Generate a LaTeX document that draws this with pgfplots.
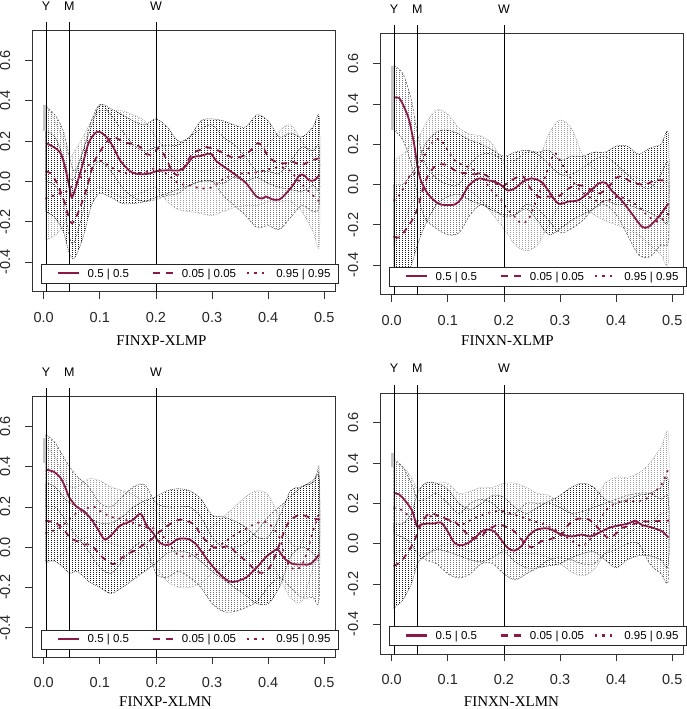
\documentclass[border=0pt]{standalone}
\usepackage{fontspec}
\setmainfont{Liberation Sans}
\newfontfamily\serif{Liberation Serif}
\usepackage{pgfplots}
\pgfplotsset{compat=1.18}
\usetikzlibrary{patterns}
\definecolor{crim}{RGB}{139,26,74}
\pgfdeclarepatternformonly{vdots}{\pgfqpoint{-0.1pt}{-0.1pt}}{\pgfqpoint{3.1pt}{2.1pt}}{\pgfqpoint{3pt}{2pt}}{\pgfpathrectangle{\pgfqpoint{0pt}{0pt}}{\pgfqpoint{0.9pt}{1pt}}\pgfusepath{fill}}

\pgfplotsset{
 panel/.style={
  scale only axis, width=303pt, height=261pt,
  xmin=-0.02, xmax=0.52, ymin=-0.548, ymax=0.748,
  clip=false,
  axis line style={black!80, line width=0.7pt},
  xtick={0,0.1,0.2,0.3,0.4,0.5}, xticklabels={0.0,0.1,0.2,0.3,0.4,0.5},
  ytick={-0.4,-0.2,0,0.2,0.4,0.6}, yticklabels={-0.4,-0.2,0.0,0.2,0.4,0.6},
  tick pos=left, tick align=outside, major tick length=7pt,
  tick style={black!80, line width=0.7pt},
  ticklabel style={font=\fontsize{14.5}{16}\selectfont, text=black!85},
  yticklabel style={rotate=90, anchor=south, inner sep=0pt},
  xticklabel style={anchor=north, inner sep=0pt},
  xticklabel shift=13pt, yticklabel shift=15pt,
  legend columns=3,
  legend style={at={(0,0)}, anchor=south west, xshift=8.7pt, yshift=8.4pt,
    draw=black!85, fill=white,
    font=\fontsize{11.5}{13}\selectfont, inner xsep=9pt, inner ysep=4.5pt,
    nodes={inner sep=0pt},
    /tikz/every even column/.append style={column sep=0pt},
    /tikz/every odd column/.append style={column sep=8pt}},
 },
 sline/.style={crim, line width=1.8pt, smooth, tension=0.5},
 dline/.style={crim, line width=1.8pt, line cap=round, dash pattern=on 5pt off 6.5pt, smooth, tension=0.5},
 tline/.style={crim, line width=1.8pt, line cap=round, dash pattern=on 1pt off 6pt, smooth, tension=0.5},
 gband/.style={pattern=vdots, pattern color=gray!75, draw=gray!75, line width=0.5pt, dash pattern=on 1pt off 1pt, smooth, tension=0.5, forget plot},
 sband/.style={pattern=vdots, pattern color=black!55, draw=black!70, line width=0.5pt, dash pattern=on 2pt off 1.5pt, smooth, tension=0.5, forget plot},
 bband/.style={pattern=vdots, pattern color=black!90, draw=black!85, line width=0.5pt, dash pattern=on 1pt off 1pt, smooth, tension=0.5, forget plot},
}

\newcommand{\ymw}{%
 \draw[black, line width=0.8pt] (axis cs:0.004,-0.548) -- (axis cs:0.004,0.79);
 \draw[black, line width=0.8pt] (axis cs:0.0455,-0.548) -- (axis cs:0.0455,0.79);
 \draw[black, line width=0.8pt] (axis cs:0.2,-0.548) -- (axis cs:0.2,0.79);
 \node[inner sep=0pt, font=\fontsize{12.5}{14}\selectfont] at (axis cs:0.004,0.87) {Y};
 \node[inner sep=0pt, font=\fontsize{12.5}{14}\selectfont] at (axis cs:0.0455,0.87) {M};
 \node[inner sep=0pt, font=\fontsize{12.5}{14}\selectfont] at (axis cs:0.2,0.87) {W};
}
\newcommand{\ssamp}{\textcolor{crim}{\rule[2.7pt]{20.7pt}{2.2pt}}}
\newcommand{\dsamp}{\textcolor{crim}{\rule[2.7pt]{7.5pt}{2.2pt}\hspace{5.7pt}\rule[2.7pt]{7.5pt}{2.2pt}}}
\newcommand{\tsamp}{\textcolor{crim}{\rule[2.7pt]{2.3pt}{2.2pt}\hspace{5.1pt}\rule[2.7pt]{2.3pt}{2.2pt}\hspace{5.1pt}\rule[2.7pt]{2.3pt}{2.2pt}}\hspace{3.6pt}}
\newcommand{\legs}{%
 \addlegendimage{empty legend}\addlegendentry{\ssamp\hspace{8.6pt}\makebox[57pt][l]{0.5 | 0.5}}
 \addlegendimage{empty legend}\addlegendentry{\dsamp\hspace{8.6pt}\makebox[57pt][l]{0.05 | 0.05}}
 \addlegendimage{empty legend}\addlegendentry{\tsamp\hspace{8.6pt}\makebox[53pt][l]{0.95 | 0.95}}
}

\begin{document}
\begin{tikzpicture}
\path (0pt,0pt) rectangle (685pt,709pt);

% ---------------- top left
\begin{axis}[panel, at={(32pt,417.3pt)}, anchor=south west]
\legs
\addplot[gband] coordinates {(0.004,0.38) (0.02,0.30) (0.035,0.20) (0.046,0.12) (0.055,0.15) (0.07,0.22) (0.085,0.30) (0.10,0.35) (0.12,0.35) (0.14,0.35) (0.16,0.33) (0.18,0.30) (0.20,0.22) (0.22,0.15) (0.24,0.10) (0.26,0.07) (0.28,0.05) (0.30,0.06) (0.32,0.08) (0.34,0.10) (0.36,0.12) (0.38,0.15) (0.40,0.18) (0.42,0.25) (0.44,0.28) (0.46,0.20) (0.48,0.12) (0.491,0.10)
 (0.491,-0.32) (0.48,-0.25) (0.46,-0.15) (0.44,-0.10) (0.42,-0.10) (0.40,-0.10) (0.38,-0.12) (0.36,-0.12) (0.34,-0.13) (0.32,-0.15) (0.30,-0.17) (0.28,-0.16) (0.26,-0.15) (0.24,-0.14) (0.22,-0.10) (0.20,-0.03) (0.18,-0.05) (0.16,-0.07) (0.14,-0.08) (0.12,-0.05) (0.10,-0.03) (0.085,-0.05) (0.07,-0.08) (0.055,-0.12) (0.046,-0.15) (0.035,-0.22) (0.02,-0.27) (0.004,-0.29)} -- cycle;
\addplot[sband] coordinates {(0.004,0.37) (0.02,0.33) (0.035,0.25) (0.046,0.12) (0.055,0.05) (0.07,0.15) (0.085,0.30) (0.10,0.38) (0.12,0.33) (0.14,0.25) (0.16,0.18) (0.18,0.15) (0.20,0.17) (0.22,0.18) (0.24,0.18) (0.26,0.22) (0.28,0.26) (0.30,0.28) (0.32,0.22) (0.34,0.18) (0.36,0.12) (0.38,0.05) (0.40,0.05) (0.42,0.04) (0.44,0.10) (0.46,0.17) (0.48,0.15) (0.491,0.17)
 (0.491,-0.12) (0.48,-0.15) (0.46,-0.12) (0.44,-0.18) (0.42,-0.24) (0.40,-0.22) (0.38,-0.23) (0.36,-0.17) (0.34,-0.12) (0.32,-0.07) (0.30,0.00) (0.28,0.00) (0.26,-0.02) (0.24,-0.06) (0.22,-0.07) (0.20,-0.09) (0.18,-0.10) (0.16,-0.08) (0.14,-0.03) (0.12,0.05) (0.10,0.10) (0.085,0.05) (0.07,-0.15) (0.055,-0.30) (0.046,-0.28) (0.035,-0.10) (0.02,-0.02) (0.004,0.00)} -- cycle;
\addplot[bband] coordinates {(0.004,0.25) (0.02,0.22) (0.035,0.12) (0.046,0.02) (0.055,0.02) (0.07,0.15) (0.085,0.27) (0.10,0.38) (0.12,0.36) (0.14,0.33) (0.16,0.30) (0.18,0.28) (0.20,0.31) (0.22,0.27) (0.24,0.20) (0.26,0.22) (0.28,0.30) (0.30,0.31) (0.32,0.30) (0.34,0.28) (0.36,0.27) (0.38,0.33) (0.40,0.30) (0.42,0.22) (0.44,0.24) (0.46,0.22) (0.48,0.27) (0.491,0.32)
 (0.491,-0.03) (0.48,-0.02) (0.46,-0.05) (0.44,-0.04) (0.42,-0.03) (0.40,-0.01) (0.38,0.02) (0.36,0.00) (0.34,0.02) (0.32,-0.01) (0.30,0.00) (0.28,0.00) (0.26,-0.02) (0.24,-0.04) (0.22,-0.06) (0.20,-0.08) (0.18,-0.10) (0.16,-0.11) (0.14,-0.11) (0.12,-0.08) (0.10,-0.06) (0.085,-0.12) (0.07,-0.28) (0.055,-0.38) (0.046,-0.36) (0.035,-0.25) (0.02,-0.18) (0.004,-0.15)} -- cycle;
\addplot[gray!45, line width=2.5pt, forget plot] coordinates {(0.0015,0.25) (0.0015,0.38)};
\addplot[sline, forget plot] coordinates {(0.004,0.19) (0.018,0.17) (0.030,0.14) (0.038,0.07) (0.046,-0.03) (0.050,-0.08) (0.056,-0.04) (0.068,0.07) (0.080,0.19) (0.092,0.24) (0.100,0.245) (0.112,0.22) (0.124,0.17) (0.136,0.105) (0.154,0.05) (0.172,0.035) (0.190,0.04) (0.200,0.05) (0.220,0.055) (0.243,0.055) (0.254,0.08) (0.266,0.12) (0.278,0.125) (0.290,0.135) (0.299,0.135) (0.308,0.10) (0.325,0.065) (0.343,0.03) (0.361,-0.01) (0.379,-0.075) (0.390,-0.085) (0.396,-0.075) (0.408,-0.09) (0.420,-0.09) (0.432,-0.06) (0.444,-0.02) (0.456,0.03) (0.464,0.03) (0.473,0.005) (0.482,0.005) (0.491,0.03)};
\addplot[dline, forget plot] coordinates {(0.004,0.05) (0.012,0.04) (0.024,-0.01) (0.038,-0.11) (0.047,-0.2) (0.054,-0.2) (0.065,-0.13) (0.077,-0.03) (0.089,0.09) (0.101,0.15) (0.112,0.195) (0.124,0.22) (0.136,0.205) (0.148,0.19) (0.160,0.185) (0.172,0.17) (0.183,0.135) (0.195,0.135) (0.204,0.165) (0.213,0.14) (0.222,0.09) (0.231,0.04) (0.243,0.035) (0.254,0.09) (0.266,0.14) (0.278,0.155) (0.290,0.17) (0.302,0.16) (0.314,0.15) (0.325,0.13) (0.337,0.12) (0.349,0.12) (0.361,0.135) (0.373,0.165) (0.382,0.19) (0.391,0.17) (0.400,0.12) (0.408,0.105) (0.420,0.09) (0.432,0.09) (0.441,0.10) (0.450,0.09) (0.459,0.08) (0.467,0.09) (0.479,0.105) (0.491,0.115)};
\addplot[tline, forget plot] coordinates {(0.004,-0.085) (0.018,-0.07) (0.030,-0.06) (0.041,-0.05) (0.050,-0.025) (0.062,0.005) (0.071,0.04) (0.083,0.09) (0.095,0.105) (0.104,0.10) (0.12,0.07) (0.14,0.045) (0.16,0.04) (0.18,0.045) (0.2,0.065) (0.22,0.035) (0.24,-0.01) (0.26,-0.02) (0.28,-0.035) (0.30,-0.03) (0.32,0.01) (0.34,0.035) (0.36,0.04) (0.38,0.045) (0.40,0.06) (0.42,0.07) (0.435,0.06) (0.45,0.02) (0.465,-0.03) (0.48,-0.07) (0.491,-0.1)};
\ymw
\end{axis}

% ---------------- top right
\begin{axis}[panel, at={(380pt,414.2pt)}, anchor=south west]
\legs
\addplot[gband] coordinates {(0.004,0.12) (0.02,0.15) (0.035,0.20) (0.046,0.22) (0.06,0.30) (0.08,0.37) (0.10,0.35) (0.12,0.28) (0.14,0.25) (0.16,0.24) (0.18,0.20) (0.20,0.10) (0.22,0.05) (0.24,0.00) (0.26,0.10) (0.28,0.25) (0.30,0.32) (0.32,0.28) (0.34,0.15) (0.36,0.08) (0.38,0.06) (0.40,0.08) (0.42,0.05) (0.44,0.03) (0.46,0.00) (0.48,-0.02) (0.493,0.00)
 (0.493,-0.39) (0.48,-0.35) (0.46,-0.30) (0.44,-0.25) (0.42,-0.22) (0.40,-0.20) (0.38,-0.18) (0.36,-0.15) (0.34,-0.10) (0.32,-0.05) (0.30,-0.10) (0.28,-0.20) (0.26,-0.30) (0.24,-0.33) (0.22,-0.30) (0.20,-0.22) (0.18,-0.15) (0.16,-0.08) (0.14,-0.03) (0.12,0.00) (0.10,0.03) (0.08,0.05) (0.06,0.00) (0.046,-0.05) (0.035,-0.10) (0.02,-0.20) (0.004,-0.30)} -- cycle;
\addplot[sband] coordinates {(0.004,0.59) (0.02,0.55) (0.035,0.42) (0.046,0.25) (0.06,0.10) (0.08,0.03) (0.10,0.00) (0.12,0.00) (0.14,0.10) (0.16,0.15) (0.18,0.15) (0.20,0.12) (0.22,0.12) (0.24,0.16) (0.26,0.15) (0.28,0.10) (0.30,0.05) (0.32,0.05) (0.34,0.08) (0.36,0.12) (0.38,0.14) (0.40,0.10) (0.42,0.05) (0.44,0.00) (0.46,-0.02) (0.48,0.05) (0.493,0.10)
 (0.493,-0.28) (0.48,-0.30) (0.46,-0.36) (0.44,-0.35) (0.42,-0.25) (0.40,-0.15) (0.38,-0.10) (0.36,-0.12) (0.34,-0.18) (0.32,-0.22) (0.30,-0.24) (0.28,-0.18) (0.26,-0.12) (0.24,-0.10) (0.22,-0.15) (0.20,-0.16) (0.18,-0.12) (0.16,-0.10) (0.14,-0.15) (0.12,-0.24) (0.10,-0.25) (0.08,-0.22) (0.06,-0.17) (0.046,-0.05) (0.035,0.10) (0.02,0.22) (0.004,0.27)} -- cycle;
\addplot[bband] coordinates {(0.004,0.00) (0.02,0.00) (0.035,0.05) (0.046,0.10) (0.06,0.20) (0.08,0.26) (0.10,0.27) (0.12,0.25) (0.14,0.22) (0.16,0.20) (0.18,0.17) (0.20,0.14) (0.22,0.16) (0.24,0.17) (0.26,0.16) (0.28,0.17) (0.30,0.12) (0.32,0.14) (0.34,0.14) (0.36,0.16) (0.38,0.16) (0.40,0.19) (0.42,0.19) (0.44,0.15) (0.46,0.18) (0.48,0.20) (0.493,0.25)
 (0.493,-0.17) (0.48,-0.17) (0.46,-0.14) (0.44,-0.12) (0.42,-0.10) (0.40,-0.10) (0.38,-0.08) (0.36,-0.12) (0.34,-0.15) (0.32,-0.18) (0.30,-0.22) (0.28,-0.25) (0.26,-0.18) (0.24,-0.12) (0.22,-0.15) (0.20,-0.15) (0.18,-0.13) (0.16,-0.10) (0.14,-0.08) (0.12,-0.05) (0.10,-0.06) (0.08,-0.10) (0.06,-0.20) (0.046,-0.30) (0.035,-0.40) (0.02,-0.48) (0.004,-0.50)} -- cycle;
\addplot[gray!45, line width=2.5pt, forget plot] coordinates {(0.0015,0.27) (0.0015,0.59)};
\addplot[sline, forget plot] coordinates {(0.004,0.43) (0.013,0.43) (0.022,0.385) (0.031,0.32) (0.040,0.2) (0.046,0.09) (0.052,0.02) (0.064,-0.045) (0.076,-0.08) (0.088,-0.10) (0.112,-0.10) (0.124,-0.07) (0.136,-0.01) (0.148,0.02) (0.157,0.03) (0.171,0.02) (0.183,0.015) (0.195,-0.003) (0.207,-0.03) (0.219,-0.02) (0.234,0.013) (0.249,0.03) (0.267,0.013) (0.279,-0.03) (0.297,-0.095) (0.315,-0.085) (0.333,-0.078) (0.351,-0.04) (0.369,0.005) (0.381,0.008) (0.392,-0.03) (0.410,-0.08) (0.428,-0.145) (0.446,-0.21) (0.458,-0.21) (0.476,-0.16) (0.493,-0.095)};
\addplot[dline, forget plot] coordinates {(0.004,-0.26) (0.013,-0.263) (0.025,-0.225) (0.037,-0.175) (0.046,-0.12) (0.055,-0.03) (0.064,0.04) (0.076,0.087) (0.088,0.10) (0.100,0.095) (0.112,0.07) (0.124,0.058) (0.136,0.055) (0.148,0.05) (0.160,0.055) (0.171,0.04) (0.183,0.013) (0.195,-0.012) (0.207,0.008) (0.219,0.03) (0.234,0.04) (0.243,-0.003) (0.261,-0.06) (0.279,-0.06) (0.297,-0.06) (0.315,-0.02) (0.333,-0.003) (0.351,-0.02) (0.369,-0.045) (0.387,-0.012) (0.398,0.03) (0.410,0.04) (0.422,0.02) (0.434,0.005) (0.452,0.0) (0.470,0.02) (0.488,0.02) (0.493,0.03)};
\addplot[tline, forget plot] coordinates {(0.004,-0.08) (0.013,-0.055) (0.022,-0.012) (0.031,0.04) (0.040,0.055) (0.047,0.08) (0.058,0.14) (0.070,0.2) (0.079,0.225) (0.088,0.22) (0.100,0.17) (0.112,0.12) (0.124,0.10) (0.136,0.087) (0.148,0.07) (0.160,0.045) (0.171,-0.003) (0.183,-0.045) (0.195,-0.078) (0.207,-0.127) (0.219,-0.16) (0.231,-0.193) (0.243,-0.177) (0.255,-0.10) (0.267,-0.012) (0.279,0.08) (0.290,0.155) (0.300,0.12) (0.312,0.06) (0.327,0.0) (0.345,-0.05) (0.369,-0.085) (0.387,-0.078) (0.404,-0.06) (0.422,-0.078) (0.440,-0.11) (0.458,-0.16) (0.476,-0.185) (0.493,-0.145)};
\ymw
\end{axis}

% ---------------- bottom left
\begin{axis}[panel, at={(32pt,51.5pt)}, anchor=south west]
\legs
\addplot[gband] coordinates {(0.004,0.50) (0.02,0.45) (0.035,0.35) (0.046,0.30) (0.06,0.30) (0.08,0.34) (0.10,0.33) (0.12,0.30) (0.14,0.28) (0.16,0.26) (0.18,0.22) (0.20,0.18) (0.22,0.10) (0.24,0.05) (0.26,0.04) (0.28,0.06) (0.30,0.10) (0.32,0.15) (0.34,0.20) (0.36,0.25) (0.38,0.28) (0.40,0.26) (0.42,0.15) (0.44,0.02) (0.46,0.02) (0.48,0.25) (0.491,0.40)
 (0.491,0.00) (0.48,-0.10) (0.46,-0.27) (0.44,-0.25) (0.42,-0.15) (0.40,-0.05) (0.38,-0.02) (0.36,-0.03) (0.34,-0.05) (0.32,-0.10) (0.30,-0.13) (0.28,-0.18) (0.26,-0.20) (0.24,-0.20) (0.22,-0.17) (0.20,-0.10) (0.18,-0.05) (0.16,-0.02) (0.14,0.00) (0.12,0.02) (0.10,0.03) (0.08,0.05) (0.06,0.03) (0.046,0.00) (0.035,-0.03) (0.02,-0.06) (0.004,-0.08)} -- cycle;
\addplot[sband] coordinates {(0.004,0.56) (0.02,0.52) (0.035,0.45) (0.046,0.40) (0.06,0.35) (0.08,0.30) (0.10,0.22) (0.12,0.20) (0.14,0.25) (0.16,0.30) (0.18,0.31) (0.20,0.22) (0.22,0.20) (0.24,0.20) (0.26,0.20) (0.28,0.15) (0.30,0.05) (0.32,0.00) (0.34,0.00) (0.36,0.02) (0.38,0.08) (0.40,0.15) (0.42,0.20) (0.44,0.25) (0.46,0.30) (0.48,0.32) (0.491,0.35)
 (0.491,-0.25) (0.48,-0.25) (0.46,-0.25) (0.44,-0.20) (0.42,-0.15) (0.40,-0.20) (0.38,-0.27) (0.36,-0.30) (0.34,-0.32) (0.32,-0.32) (0.30,-0.28) (0.28,-0.20) (0.26,-0.15) (0.24,-0.12) (0.22,-0.15) (0.20,-0.13) (0.18,0.02) (0.16,0.00) (0.14,-0.07) (0.12,-0.13) (0.10,-0.10) (0.08,-0.02) (0.06,0.05) (0.046,0.10) (0.035,0.15) (0.02,0.20) (0.004,0.20)} -- cycle;
\addplot[bband] coordinates {(0.004,0.32) (0.02,0.30) (0.035,0.25) (0.046,0.22) (0.06,0.20) (0.08,0.15) (0.10,0.12) (0.12,0.12) (0.14,0.15) (0.16,0.20) (0.18,0.23) (0.20,0.25) (0.22,0.28) (0.24,0.29) (0.26,0.28) (0.28,0.24) (0.30,0.16) (0.32,0.15) (0.34,0.13) (0.36,0.10) (0.38,0.05) (0.40,0.05) (0.42,0.15) (0.44,0.28) (0.46,0.30) (0.48,0.33) (0.491,0.34)
 (0.491,-0.05) (0.48,-0.03) (0.46,0.00) (0.44,-0.05) (0.42,-0.20) (0.40,-0.28) (0.38,-0.28) (0.36,-0.24) (0.34,-0.20) (0.32,-0.16) (0.30,-0.12) (0.28,-0.07) (0.26,-0.03) (0.24,-0.02) (0.22,-0.03) (0.20,-0.08) (0.18,-0.12) (0.16,-0.16) (0.14,-0.20) (0.12,-0.23) (0.10,-0.20) (0.08,-0.17) (0.06,-0.12) (0.046,-0.13) (0.035,-0.10) (0.02,-0.07) (0.004,-0.07)} -- cycle;
\addplot[gray!45, line width=2.5pt, forget plot] coordinates {(0.0015,0.42) (0.0015,0.54)};
\addplot[sline, forget plot] coordinates {(0.004,0.385) (0.018,0.374) (0.030,0.344) (0.038,0.30) (0.046,0.245) (0.059,0.20) (0.071,0.18) (0.083,0.145) (0.095,0.096) (0.106,0.045) (0.112,0.04) (0.124,0.07) (0.136,0.107) (0.148,0.12) (0.160,0.137) (0.169,0.162) (0.175,0.16) (0.183,0.11) (0.195,0.07) (0.204,0.03) (0.213,0.013) (0.225,0.013) (0.237,0.038) (0.249,0.043) (0.260,0.038) (0.272,0.013) (0.284,-0.033) (0.296,-0.078) (0.314,-0.135) (0.331,-0.17) (0.343,-0.17) (0.361,-0.15) (0.379,-0.103) (0.396,-0.05) (0.408,-0.023) (0.417,-0.012) (0.429,-0.056) (0.444,-0.083) (0.462,-0.086) (0.476,-0.083) (0.491,-0.036)};
\addplot[dline, forget plot] coordinates {(0.004,0.13) (0.015,0.126) (0.027,0.11) (0.038,0.08) (0.047,0.046) (0.059,0.03) (0.071,0.013) (0.083,0.013) (0.095,-0.02) (0.106,-0.053) (0.118,-0.078) (0.127,-0.083) (0.139,-0.053) (0.154,-0.028) (0.166,-0.012) (0.178,0.013) (0.192,0.038) (0.204,0.07) (0.216,0.096) (0.228,0.12) (0.243,0.137) (0.254,0.13) (0.269,0.112) (0.278,0.07) (0.290,0.03) (0.305,-0.003) (0.320,0.0) (0.331,0.005) (0.343,-0.028) (0.355,-0.056) (0.367,-0.086) (0.379,-0.12) (0.390,-0.127) (0.402,-0.103) (0.411,-0.053) (0.420,0.013) (0.429,0.08) (0.438,0.13) (0.450,0.154) (0.462,0.159) (0.476,0.145) (0.491,0.137)};
\addplot[tline, forget plot] coordinates {(0.004,0.07) (0.015,0.08) (0.025,0.09) (0.035,0.11) (0.046,0.14) (0.06,0.17) (0.075,0.19) (0.09,0.2) (0.1,0.18) (0.12,0.15) (0.14,0.14) (0.16,0.12) (0.18,0.1) (0.2,0.09) (0.21,0.06) (0.22,0.03) (0.24,-0.04) (0.26,-0.045) (0.28,-0.03) (0.3,-0.01) (0.32,0.02) (0.34,0.06) (0.36,0.09) (0.38,0.12) (0.40,0.12) (0.42,0.05) (0.43,-0.05) (0.44,-0.1) (0.45,-0.11) (0.46,-0.09) (0.47,-0.02) (0.48,0.08) (0.491,0.17)};
\ymw
\end{axis}

% ---------------- bottom right
\begin{axis}[panel, at={(380pt,55pt)}, anchor=south west]
\legs
\addplot[gband] coordinates {(0.004,0.40) (0.02,0.38) (0.035,0.33) (0.046,0.27) (0.06,0.30) (0.08,0.30) (0.10,0.30) (0.12,0.25) (0.14,0.26) (0.16,0.28) (0.18,0.28) (0.20,0.30) (0.22,0.30) (0.24,0.28) (0.26,0.25) (0.28,0.24) (0.30,0.20) (0.32,0.15) (0.34,0.12) (0.36,0.20) (0.38,0.30) (0.40,0.33) (0.42,0.33) (0.44,0.35) (0.46,0.40) (0.48,0.48) (0.493,0.55)
 (0.493,0.18) (0.48,0.15) (0.46,0.10) (0.44,0.08) (0.42,0.05) (0.40,0.00) (0.38,-0.05) (0.36,-0.13) (0.34,-0.16) (0.32,-0.14) (0.30,-0.10) (0.28,-0.07) (0.26,-0.05) (0.24,-0.05) (0.22,-0.05) (0.20,-0.03) (0.18,0.00) (0.16,-0.02) (0.14,-0.04) (0.12,-0.02) (0.10,0.00) (0.08,-0.02) (0.06,-0.05) (0.046,-0.04) (0.035,-0.02) (0.02,-0.03) (0.004,-0.05)} -- cycle;
\addplot[sband] coordinates {(0.004,0.42) (0.02,0.38) (0.035,0.30) (0.046,0.22) (0.06,0.22) (0.08,0.25) (0.10,0.20) (0.12,0.15) (0.14,0.20) (0.16,0.22) (0.18,0.20) (0.20,0.15) (0.22,0.15) (0.24,0.20) (0.26,0.20) (0.28,0.20) (0.30,0.18) (0.32,0.15) (0.34,0.16) (0.36,0.18) (0.38,0.20) (0.40,0.22) (0.42,0.24) (0.44,0.25) (0.46,0.25) (0.48,0.22) (0.493,0.22)
 (0.493,-0.18) (0.48,-0.15) (0.46,-0.10) (0.44,0.00) (0.42,0.00) (0.40,-0.03) (0.38,-0.05) (0.36,-0.10) (0.34,-0.10) (0.32,-0.08) (0.30,-0.07) (0.28,-0.08) (0.26,-0.12) (0.24,-0.15) (0.22,-0.18) (0.20,-0.15) (0.18,-0.10) (0.16,-0.10) (0.14,-0.15) (0.12,-0.17) (0.10,-0.15) (0.08,-0.10) (0.06,-0.08) (0.046,-0.05) (0.035,0.00) (0.02,0.03) (0.004,0.05)} -- cycle;
\addplot[bband] coordinates {(0.004,0.10) (0.02,0.10) (0.035,0.15) (0.046,0.25) (0.06,0.30) (0.08,0.30) (0.10,0.27) (0.12,0.20) (0.14,0.17) (0.16,0.20) (0.18,0.24) (0.20,0.23) (0.22,0.18) (0.24,0.15) (0.26,0.18) (0.28,0.21) (0.30,0.24) (0.32,0.28) (0.34,0.30) (0.36,0.28) (0.38,0.22) (0.40,0.20) (0.42,0.22) (0.44,0.24) (0.46,0.25) (0.48,0.28) (0.493,0.31)
 (0.493,-0.10) (0.48,-0.08) (0.46,-0.06) (0.44,-0.06) (0.42,-0.08) (0.40,-0.12) (0.38,-0.08) (0.36,-0.04) (0.34,-0.05) (0.32,-0.07) (0.30,-0.10) (0.28,-0.11) (0.26,-0.12) (0.24,-0.12) (0.22,-0.09) (0.20,-0.04) (0.18,-0.07) (0.16,-0.09) (0.14,-0.08) (0.12,-0.06) (0.10,-0.04) (0.08,-0.03) (0.06,-0.06) (0.046,-0.10) (0.035,-0.20) (0.02,-0.28) (0.004,-0.32)} -- cycle;
\addplot[gray!45, line width=2.5pt, forget plot] coordinates {(0.0015,0.38) (0.0015,0.45)};
\addplot[sline, forget plot] coordinates {(0.004,0.25) (0.013,0.245) (0.025,0.21) (0.037,0.16) (0.045,0.086) (0.052,0.094) (0.064,0.10) (0.076,0.10) (0.088,0.105) (0.100,0.06) (0.112,0.003) (0.124,-0.008) (0.136,0.003) (0.148,0.028) (0.160,0.06) (0.171,0.07) (0.183,0.06) (0.195,0.02) (0.207,-0.022) (0.219,-0.035) (0.231,-0.013) (0.243,0.036) (0.255,0.065) (0.267,0.075) (0.279,0.075) (0.291,0.061) (0.303,0.045) (0.321,0.036) (0.339,0.045) (0.354,0.036) (0.369,0.053) (0.387,0.078) (0.404,0.09) (0.422,0.10) (0.434,0.114) (0.446,0.093) (0.464,0.08) (0.482,0.061) (0.493,0.03)};
\addplot[dline, forget plot] coordinates {(0.004,-0.11) (0.016,-0.09) (0.028,-0.046) (0.037,-0.005) (0.045,0.045) (0.052,0.094) (0.064,0.144) (0.076,0.147) (0.088,0.13) (0.100,0.12) (0.112,0.11) (0.124,0.078) (0.136,0.045) (0.148,0.025) (0.160,0.036) (0.171,0.07) (0.183,0.086) (0.195,0.094) (0.207,0.078) (0.219,0.061) (0.234,0.012) (0.249,-0.018) (0.267,0.012) (0.279,0.02) (0.291,0.03) (0.303,0.045) (0.315,0.094) (0.327,0.12) (0.339,0.125) (0.351,0.12) (0.363,0.094) (0.375,0.053) (0.387,0.028) (0.398,0.045) (0.410,0.078) (0.422,0.086) (0.434,0.10) (0.446,0.11) (0.464,0.11) (0.482,0.114) (0.493,0.114)};
\addplot[tline, forget plot] coordinates {(0.004,0.177) (0.016,0.17) (0.028,0.144) (0.040,0.11) (0.052,0.12) (0.070,0.136) (0.088,0.136) (0.106,0.11) (0.124,0.094) (0.136,0.11) (0.148,0.127) (0.166,0.147) (0.183,0.16) (0.201,0.16) (0.219,0.144) (0.237,0.127) (0.255,0.11) (0.273,0.094) (0.291,0.07) (0.309,0.036) (0.327,0.003) (0.339,-0.013) (0.351,0.012) (0.363,0.061) (0.380,0.16) (0.398,0.2) (0.416,0.21) (0.434,0.21) (0.452,0.22) (0.470,0.26) (0.482,0.3) (0.493,0.37)};
\ymw
\end{axis}

\node[inner sep=0pt, font=\serif\fontsize{15}{17}\selectfont] at (161pt,368pt) {FINXP-XLMP};
\node[inner sep=0pt, font=\serif\fontsize{15}{17}\selectfont] at (507pt,368pt) {FINXN-XLMP};
\node[inner sep=0pt, font=\serif\fontsize{15}{17}\selectfont] at (165pt,7.5pt) {FINXP-XLMN};
\node[inner sep=0pt, font=\serif\fontsize{15}{17}\selectfont] at (511pt,7.5pt) {FINXN-XLMN};
\end{tikzpicture}
\end{document}
